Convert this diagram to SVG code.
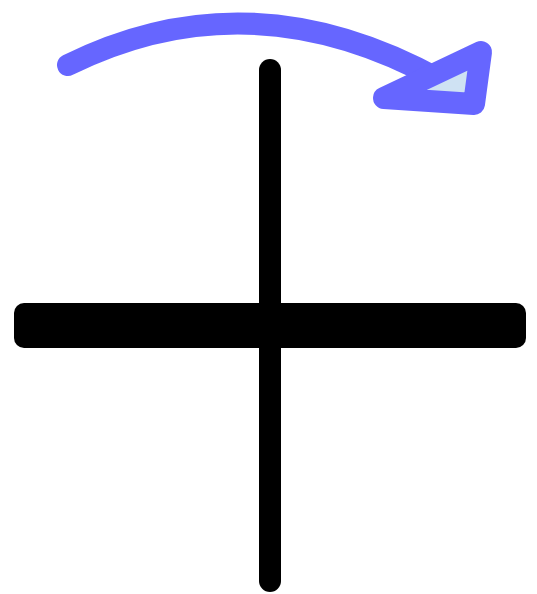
<svg xmlns="http://www.w3.org/2000/svg" width="537" height="594" viewBox="0 0 537 594">
<style>
.blue{stroke:#6666ff;stroke-width:22;stroke-linecap:round;stroke-linejoin:round}
</style>
<rect width="537" height="594" fill="#ffffff"/>
<g id="vertical">
<line x1="270" y1="70" x2="270" y2="581" stroke="#000" stroke-width="22" stroke-linecap="round"/>
</g>
<g id="horizontal">
<rect x="14" y="303" width="512" height="45" rx="10" fill="#000"/>
</g>
<g id="connectors">
<path class="blue" d="M68,65 Q250,-25 440,80" fill="none"/>
<polygon class="blue" points="384,98 481,52 474,104" fill="#cfe2f3"/>
</g>
</svg>
